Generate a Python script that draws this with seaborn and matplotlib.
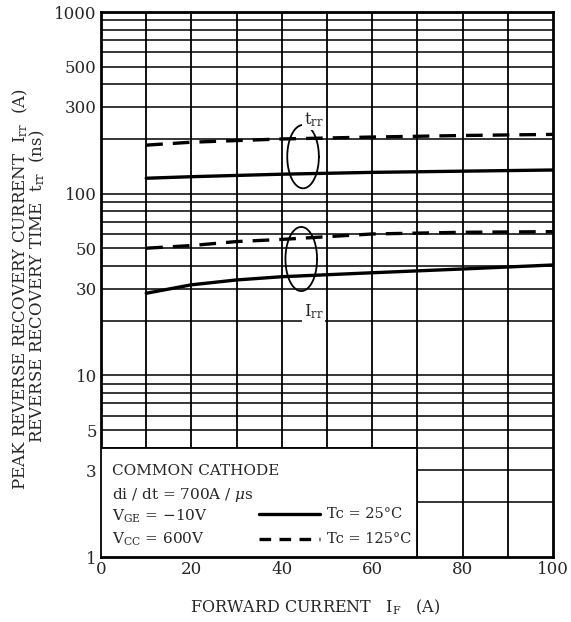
import numpy as np
import matplotlib
matplotlib.use('Agg')
import matplotlib.pyplot as plt
import seaborn as sns
import pandas as pd
from matplotlib.patches import Rectangle

# ── Data ────────────────────────────────────────────────────
if_amps        = [10, 20, 30, 40, 60, 80, 100]
trr_25         = [121.6, 124, 126, 128, 131, 133, 135]
trr_125        = [185, 192, 196, 200, 205, 209, 212]
irr_25         = [28.3, 31.5, 33.5, 34.9, 36.7, 38.5, 40.5]
irr_125        = [50.1, 51.8, 54.5, 56, 60, 61.3, 61.8]

x_ticks = [0, 20, 40, 60, 80, 100]
y_ticks = [1, 3, 5, 10, 30, 50, 100, 300, 500, 1000]

curves = pd.DataFrame({
    'IF': if_amps * 4,
    'value': trr_25 + trr_125 + irr_25 + irr_125,
    'curve': ['trr25'] * 7 + ['trr125'] * 7 + ['irr25'] * 7 + ['irr125'] * 7,
    'Tc': ['25'] * 7 + ['125'] * 7 + ['25'] * 7 + ['125'] * 7,
})

sns.set_theme(style='white')
plt.rcParams['font.family'] = ['DejaVu Serif']
plt.rcParams['mathtext.fontset'] = 'dejavuserif'

fig = plt.figure(figsize=(5.71, 6.22), dpi=100)
ax = fig.add_axes([0.1769, 0.1045, 0.7916, 0.8762])
ax.set_yscale('log')
ax.set_xlim(0, 100)
ax.set_ylim(1, 1000)

# grid: verticals every 10, horizontals at every log minor step
for xv in range(10, 100, 10):
    ax.axvline(xv, color='black', lw=1.3, zorder=1)
for dec in [1, 10, 100]:
    for m in range(2, 11):
        ax.axhline(dec * m, color='black', lw=1.1, zorder=1)

for name, sub in curves.groupby('curve'):
    ls = (0, (5, 3)) if sub['Tc'].iloc[0] == '125' else '-'
    sns.lineplot(data=sub, x='IF', y='value', ax=ax, color='black', lw=2.4,
                 linestyle=ls, legend=False, zorder=3, errorbar=None)

# condition box in lower left
ax.add_patch(Rectangle((0, 1), 70, 3, facecolor='white', edgecolor='black',
                       lw=1.3, zorder=4))
fs = 11
ax.text(2.5, 2.97, 'COMMON CATHODE', fontsize=fs, va='center', zorder=5)
ax.text(2.5, 2.2, r'di / dt = 700A / $\mu$s', fontsize=fs, va='center', zorder=5)
ax.text(2.5, 1.67, r'V$_{\mathrm{GE}}$ = $-$10V', fontsize=fs, va='center', zorder=5)
ax.text(2.5, 1.25, r'V$_{\mathrm{CC}}$ = 600V', fontsize=fs, va='center', zorder=5)
ax.plot([35, 48.5], [1.72, 1.72], color='black', lw=2.4, zorder=5)
ax.plot([35, 48.5], [1.25, 1.25], color='black', lw=2.4, linestyle=(0, (3.5, 2.5)), zorder=5)
ax.text(50, 1.72, 'Tc = 25°C', fontsize=10.5, va='center', zorder=5)
ax.text(50, 1.25, 'Tc = 125°C', fontsize=10.5, va='center', zorder=5)

# group ellipses (drawn in log space so they look round on the chart)
for xc, ylo, yhi in [(44.7, 107, 239), (44.3, 29.1, 65.6)]:
    yc = np.sqrt(ylo * yhi)
    t = np.linspace(0, 2 * np.pi, 200)
    ex = xc + 3.5 * np.cos(t)
    ey = 10 ** (np.log10(yc) + 0.5 * np.log10(yhi / ylo) * np.sin(t))
    ax.plot(ex, ey, color='black', lw=1.3, zorder=4)

ax.text(47, 255, r't$_{\mathrm{rr}}$', fontsize=12, ha='center', va='center', zorder=5,
        bbox=dict(facecolor='white', edgecolor='none', pad=1))
ax.text(47, 22.3, r'I$_{\mathrm{rr}}$', fontsize=12, ha='center', va='center', zorder=5,
        bbox=dict(facecolor='white', edgecolor='none', pad=1))

ax.set_xticks(x_ticks)
ax.set_xticklabels([str(v) for v in x_ticks], fontsize=12)
ax.set_yticks(y_ticks)
ax.set_yticklabels([str(v) for v in y_ticks], fontsize=12)
ax.yaxis.set_minor_locator(matplotlib.ticker.NullLocator())
ax.tick_params(axis='both', length=0, pad=3)
for sp in ax.spines.values():
    sp.set_color('black')
    sp.set_linewidth(2)
ax.set_xlabel('')
ax.set_ylabel('')

fig.text(0.552, 0.008, r'FORWARD CURRENT   I$_{\mathrm{F}}$   (A)', fontsize=11.5,
         ha='center', va='bottom')
fig.text(0.035, 0.535, r'PEAK REVERSE RECOVERY CURRENT  I$_{\mathrm{rr}}$  (A)',
         fontsize=12, rotation=90, ha='center', va='center')
fig.text(0.066, 0.54, r'REVERSE RECOVERY TIME  t$_{\mathrm{rr}}$  (ns)',
         fontsize=12, rotation=90, ha='center', va='center')

fig.savefig('out.png', dpi=100)
